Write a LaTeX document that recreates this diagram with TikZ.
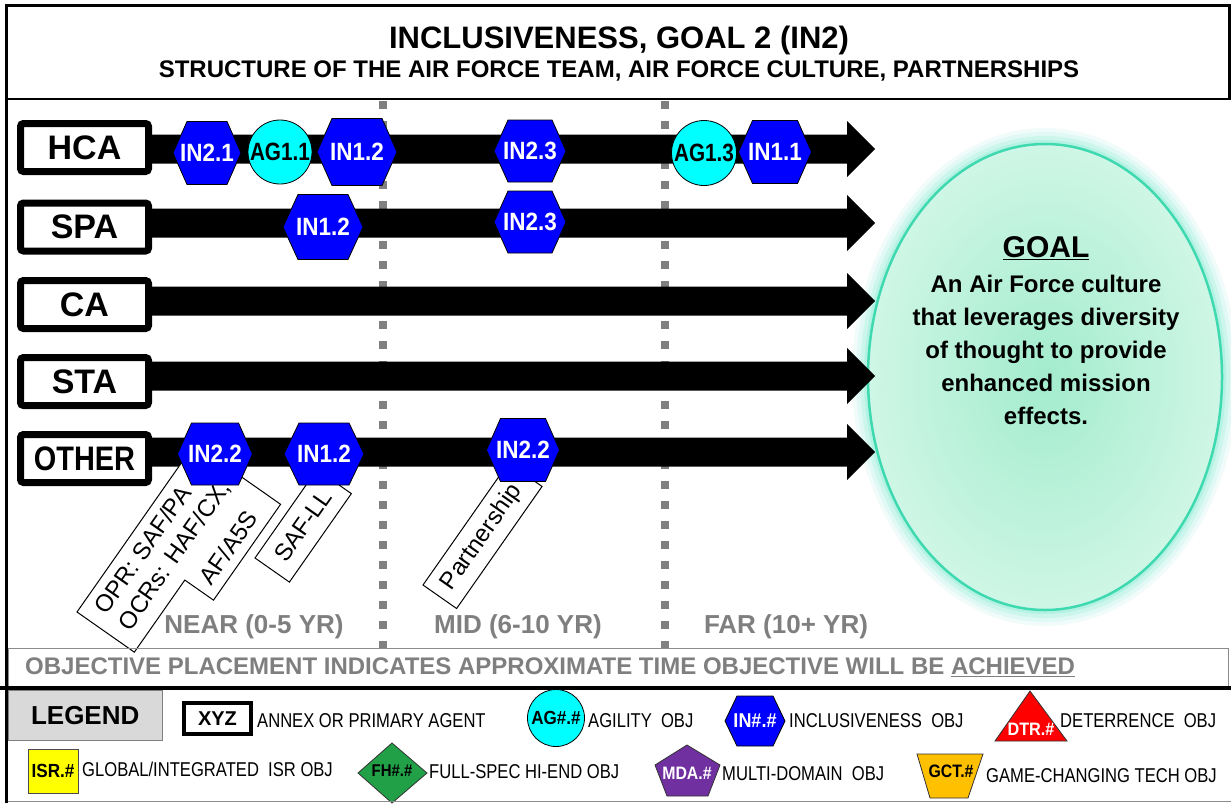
\documentclass[tikz,border=0pt]{standalone}
\usepackage{fontspec}
\setmainfont{Liberation Sans}
\usetikzlibrary{calc,shapes.geometric}
\definecolor{hexblue}{HTML}{0000FF}
\definecolor{agcyan}{HTML}{00FFFF}
\definecolor{dotgray}{HTML}{808080}
\definecolor{txtgray}{HTML}{7F7F7F}
\definecolor{leggray}{HTML}{D9D9D9}
\definecolor{goalfill}{HTML}{CFF6E6}
\definecolor{goalin}{HTML}{A3ECCD}
\definecolor{goalline}{HTML}{3FD9B0}
\definecolor{goalglow}{HTML}{7FEBD0}
\definecolor{fhgreen}{HTML}{22A048}
\definecolor{mdapurple}{HTML}{7030A0}
\definecolor{gctgold}{HTML}{FFC000}
\definecolor{dtrred}{HTML}{FF0000}
\definecolor{isryellow}{HTML}{FFFF00}
\newcommand{\fsz}[1]{\fontsize{#1pt}{#1pt}\selectfont}
\newcommand{\legcond}[1]{\scalebox{0.83}[1]{#1}}
\newcommand{\hexcond}[1]{\scalebox{0.9}[1]{#1}}
\newcommand{\rowbar}[2]{%
  \fill ($(#1)+(0,-14.5)$) -- ($(#2)+(-28,-14.5)$) -- ($(#2)+(-28,-28)$) -- (#2)
     -- ($(#2)+(-28,28)$) -- ($(#2)+(-28,14.5)$) -- ($(#1)+(0,14.5)$) -- cycle;}
\newcommand{\hexobj}[8]{%
  \filldraw[hexsty] (#2-#4/2,#3) -- (#2-#4/2+#6,#3-#5/2) -- (#2+#4/2-#6,#3-#5/2)
     -- (#2+#4/2,#3) -- (#2+#4/2-#6,#3+#5/2) -- (#2-#4/2+#6,#3+#5/2) -- cycle;
  \node[hextxt, font=\bfseries\fsz{#8}] (#1) at (#2,#3) {\hexcond{#7}};}
\begin{document}
\begin{tikzpicture}[x=1pt,y=-1pt,
  rowlab/.style={draw, line width=7pt, fill=white, rounded corners=3pt, minimum width=128pt, minimum height=48pt, inner sep=0pt, font=\bfseries\fsz{34}},
  hexsty/.style={fill=hexblue, draw=black, line width=0.8pt},
  hextxt/.style={text=white, inner sep=0pt},
  agsty/.style={circle, draw=black, line width=0.8pt, fill=agcyan, inner sep=0pt, font=\bfseries\fsz{25}},
  callout/.style={draw=black, fill=white, line width=1pt},
  callouttxt/.style={inner sep=0pt, font=\fsz{24}},
  dotline/.style={draw=dotgray, line width=8pt, dash pattern=on 8pt off 12pt},
  timelab/.style={text=txtgray, font=\bfseries\fsz{26}, inner sep=0pt},
  legtxt/.style={anchor=west, inner sep=0pt, font=\fsz{20}},
  legshape/.style={draw=black!80, line width=0.8pt},
  ]
\useasboundingbox (0,0) rectangle (1231,803);
\fill[white] (0,0) rectangle (1231,803);

% goal ellipse with glow
\foreach \k/\op in {16/0.10,12/0.14,8/0.20,4/0.30}
  \fill[goalglow, opacity=\op] (1045,377) ellipse [x radius=177+\k, y radius=233+\k];
\node[ellipse, minimum width=354pt, minimum height=466pt, inner color=goalin, outer color=goalfill, draw=goalline, line width=2.5pt] (goal) at (1045,377) {};
\node[font=\bfseries\fsz{30}, inner sep=0pt] (goalhd) at (1046,248) {\underline{GOAL}};
\node[font=\bfseries\fontsize{24pt}{33pt}\selectfont, align=center, inner sep=0pt] (goaltxt) at (1046,350) {An Air Force culture\\that leverages diversity\\of thought to provide\\enhanced mission\\effects.};

% dotted time dividers
\coordinate (d1a) at (383,101); \coordinate (d1b) at (383,648);
\coordinate (d2a) at (665,101); \coordinate (d2b) at (665,648);
\draw[dotline] (d1a) -- (d1b);
\draw[dotline] (d2a) -- (d2b);

% bars
\coordinate (hcas) at (150,149); \coordinate (hcat) at (875,149);
\coordinate (spas) at (150,223); \coordinate (spat) at (875,223);
\coordinate (cas) at (150,301); \coordinate (cat) at (875,301);
\coordinate (stas) at (150,376); \coordinate (stat) at (875,376);
\coordinate (oths) at (150,452); \coordinate (otht) at (875,452);
\rowbar{hcas}{hcat}
\rowbar{spas}{spat}
\rowbar{cas}{cat}
\rowbar{stas}{stat}
\rowbar{oths}{otht}

% row labels
\node[rowlab] (hca) at (84.5,147.5) {HCA};
\node[rowlab] (spa) at (84.5,227) {SPA};
\node[rowlab] (ca) at (84.5,304.5) {CA};
\node[rowlab] (sta) at (84.5,381.5) {STA};
\node[rowlab] (oth) at (84.5,458.5) {\scalebox{0.85}[1]{OTHER}};

% rotated callouts
\begin{scope}[shift={(77,612)}, rotate=55, transform shape]
  \filldraw[callout] (0,0) -- (205,0) -- (205,105) -- (88,105) -- (88,70) -- (0,70) -- cycle;
  \node[callouttxt, anchor=west] (opr1) at (14,18) {OPR: SAF/PA};
  \node[callouttxt, anchor=west] (opr2) at (14,48) {OCRs: HAF/CX,};
  \node[callouttxt, anchor=west] (opr3) at (98,87) {AF/A5S};
\end{scope}
\begin{scope}[shift={(255,558)}, rotate=55, transform shape]
  \filldraw[callout] (0,0) -- (108,0) -- (108,42) -- (0,42) -- cycle;
  \node[callouttxt] (safll) at (54,21) {SAF-LL};
\end{scope}
\begin{scope}[shift={(423,585)}, rotate=55, transform shape]
  \filldraw[callout] (0,0) -- (149,0) -- (149,41) -- (0,41) -- cycle;
  \node[callouttxt] (partner) at (73,21) {Partnership};
\end{scope}

% objectives
\hexobj{hin21}{207}{153}{68}{63}{14}{IN2.1}{25}
\node[agsty, minimum size=64pt] (hag11) at (280,152) {\scalebox{0.83}[1]{AG1.1}};
\hexobj{hin12}{357}{152}{80}{67}{15}{IN1.2}{25}
\hexobj{hin23}{530}{151}{72}{62}{14}{IN2.3}{25}
\node[agsty, minimum size=65pt] (hag13) at (704,153) {\scalebox{0.83}[1]{AG1.3}};
\hexobj{hin11}{775}{152}{73}{63}{14}{IN1.1}{25}
\hexobj{sin12}{323}{227}{80}{65}{15}{IN1.2}{25}
\hexobj{sin23}{530}{222}{72}{62}{14}{IN2.3}{25}
\hexobj{oin22}{215}{454}{75}{62}{14}{IN2.2}{25}
\hexobj{oin12}{324}{454}{80}{62}{15}{IN1.2}{25}
\hexobj{oin22b}{523}{450}{73}{63}{14}{IN2.2}{25}

% time labels
\node[timelab] (near) at (254,627) {NEAR (0-5 YR)};
\node[timelab] (mid) at (518,627) {MID (6-10 YR)};
\node[timelab] (far) at (786,627) {FAR (10+ YR)};

% header and frame
\node[font=\bfseries\fsz{31}, inner sep=0pt] (title) at (619,40) {INCLUSIVENESS, GOAL 2 (IN2)};
\node[font=\bfseries\fsz{24}, inner sep=0pt] (subtitle) at (619,71) {STRUCTURE OF THE AIR FORCE TEAM, AIR FORCE CULTURE, PARTNERSHIPS};
\draw[line width=3pt] (6.5,803) -- (6.5,5.5) -- (1229,5.5) -- (1229,99);
\draw[line width=2.5pt] (5,99) -- (1231,99);

% objective placement note
\node[draw=black!45, line width=1pt, minimum width=1220pt, minimum height=40pt, anchor=north west, inner sep=0pt] (objbox) at (8,648) {};
\node[anchor=west, text=txtgray, font=\bfseries\fsz{24}, inner sep=0pt] (objtxt) at (25,667) {OBJECTIVE PLACEMENT INDICATES APPROXIMATE TIME OBJECTIVE WILL BE \underline{ACHIEVED}};
\draw[line width=4pt] (0,688) -- (1231,688);

% legend
\node[draw=black!50, fill=leggray, minimum width=154pt, minimum height=50pt, anchor=north west, inner sep=0pt, font=\bfseries\fsz{26}] (legend) at (8,690) {LEGEND};
\node[draw=black, line width=4pt, fill=white, minimum width=67pt, minimum height=31pt, inner sep=0pt, font=\bfseries\fsz{20}] (xyz) at (217.5,718.5) {XYZ};
\node[legtxt] (annex) at (257,721) {\legcond{ANNEX OR PRIMARY AGENT}};
\node[agsty, minimum size=57pt, font=\bfseries\fsz{19}] (aglg) at (556,718) {\scalebox{0.9}[1]{AG\#.\#}};
\node[legtxt] (agil) at (588,721) {\legcond{AGILITY\ \ OBJ}};
\hexobj{inlg}{755}{721}{60}{50}{12}{IN\#.\#}{20}
\node[legtxt] (incl) at (789,721) {\legcond{INCLUSIVENESS\ \ OBJ}};
\filldraw[legshape, fill=dtrred] (1030,691) -- (1067,741) -- (995,741) -- cycle;
\node[text=white, font=\bfseries\fsz{18}, inner sep=0pt] (dtr) at (1031,729) {\scalebox{0.9}[1]{DTR.\#}};
\node[legtxt] (deter) at (1060,721) {\legcond{DETERRENCE\ \ OBJ}};

\node[draw=black!70, fill=isryellow, minimum width=50pt, minimum height=44pt, inner sep=0pt, font=\bfseries\fsz{19}] (isr) at (53,771) {\scalebox{0.9}[1]{ISR.\#}};
\node[legtxt] (isrl) at (82,769) {\legcond{GLOBAL/INTEGRATED\ \ ISR OBJ}};
\filldraw[legshape, fill=fhgreen] (358,773) -- (392,743) -- (427,773) -- (392,803) -- cycle;
\node[font=\bfseries\fsz{17}, inner sep=0pt] (fh) at (392,771) {\scalebox{0.88}[1]{FH\#.\#}};
\node[legtxt] (fhl) at (429,772) {\legcond{FULL-SPEC HI-END OBJ}};
\filldraw[legshape, fill=mdapurple] (687,745) -- (720,765) -- (708,796) -- (667,796) -- (655,765) -- cycle;
\node[text=white, font=\bfseries\fsz{18}, inner sep=0pt] (mda) at (687,773) {\scalebox{0.88}[1]{MDA.\#}};
\node[legtxt] (mdal) at (722,774) {\legcond{MULTI-DOMAIN\ \ OBJ}};
\filldraw[legshape, fill=gctgold] (917,754) -- (983,754) -- (968,798) -- (930,798) -- cycle;
\node[font=\bfseries\fsz{18}, inner sep=0pt] (gct) at (951,771) {\scalebox{0.88}[1]{GCT.\#}};
\node[legtxt] (gctl) at (986,776) {\legcond{GAME-CHANGING TECH OBJ}};
\draw[black!45, line width=1pt] (8,801) -- (1231,801);
\end{tikzpicture}
\end{document}
